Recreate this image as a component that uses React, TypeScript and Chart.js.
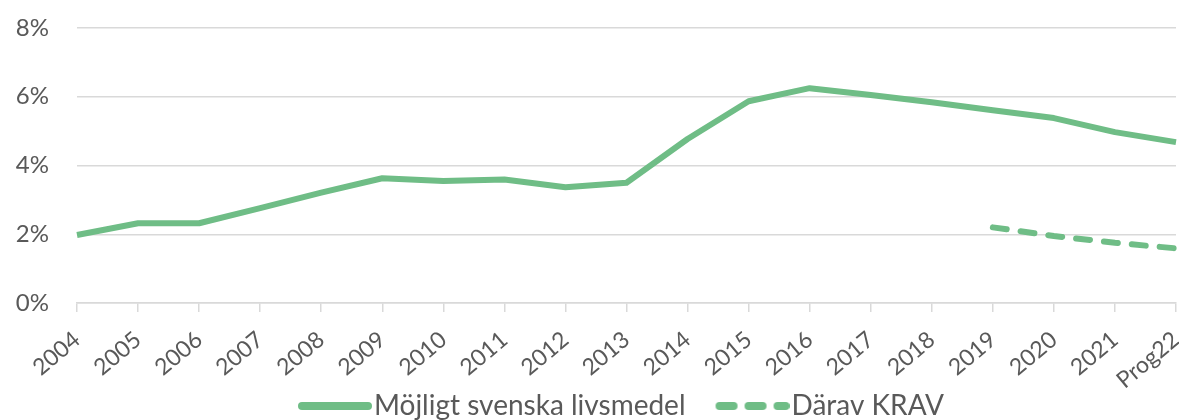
import React, { useEffect, useRef } from "react";
import { Chart, registerables } from "chart.js";

Chart.register(...registerables);

const categories = ["2004","2005","2006","2007","2008","2009","2010","2011","2012","2013","2014","2015","2016","2017","2018","2019","2020","2021","Prog22"];
const svenskaValues = [1.98, 2.32, 2.32, 2.76, 3.21, 3.63, 3.55, 3.59, 3.37, 3.5, 4.77, 5.87, 6.25, 6.05, 5.84, 5.61, 5.38, 4.97, 4.68];
const kravValues = [null, null, null, null, null, null, null, null, null, null, null, null, null, null, null, 2.2, 1.95, 1.75, 1.59];
const seriesNames = ["Möjligt svenska livsmedel", "Därav KRAV"];
const yTicks = [0, 2, 4, 6, 8];

const GREEN = "#6fbd86";
const GREY = "#595959";
const GRID = "#d9d9d9";
const FONT = "Lato, 'Open Sans', sans-serif";

const LEGEND_PAD = 30;
const LEGEND_FONT = 28;
const LEGEND_CENTER_Y = 406;
const LEGEND_CENTER_X = 621;
const LEGEND_BOX = 62;
const LEGEND_EXTRA = 12;

function makeLegendIcon(dashed: boolean) {
  const c = document.createElement("canvas");
  c.width = LEGEND_BOX + 2 * LEGEND_EXTRA;
  c.height = 10;
  const ctx = c.getContext("2d")!;
  ctx.strokeStyle = GREEN;
  ctx.lineWidth = 8;
  ctx.lineCap = "round";
  if (dashed) ctx.setLineDash([14, 15]);
  ctx.beginPath();
  ctx.moveTo(LEGEND_EXTRA + 4, 5);
  ctx.lineTo(c.width - 4, 5);
  ctx.stroke();
  return c;
}

const legendShift = {
  id: "legendShift",
  afterLayout(chart: any) {
    const lg = chart.legend;
    if (!lg) return;
    lg.top = LEGEND_CENTER_Y - LEGEND_PAD - LEGEND_FONT / 2;
    lg.bottom = 420;
    lg.height = lg.bottom - lg.top;
    lg.right = 1179;
    lg.left = 2 * LEGEND_CENTER_X - 1179;
    lg.width = lg.right - lg.left;
  },
};

export default function App() {
  const ref = useRef<HTMLCanvasElement | null>(null);
  useEffect(() => {
    document.body.style.margin = "0";
    const canvas = ref.current;
    if (!canvas) return;
    const icons = [makeLegendIcon(false), makeLegendIcon(true)];
    const chart = new Chart(canvas, {
      type: "line",
      data: {
        labels: categories,
        datasets: [
          {
            label: seriesNames[0],
            data: svenskaValues,
            borderColor: GREEN,
            backgroundColor: GREEN,
            borderWidth: 6,
            borderJoinStyle: "round",
            borderCapStyle: "butt",
            pointRadius: 0,
            pointHoverRadius: 0,
            tension: 0,
          },
          {
            label: seriesNames[1],
            data: kravValues,
            borderColor: GREEN,
            backgroundColor: GREEN,
            borderWidth: 6,
            borderDash: [14, 14],
            borderCapStyle: "round",
            borderJoinStyle: "round",
            pointRadius: 0,
            pointHoverRadius: 0,
            tension: 0,
          },
        ],
      },
      plugins: [legendShift],
      options: {
        responsive: false,
        animation: false,
        layout: { padding: { top: 28, right: 3, left: 0, bottom: 0 } },
        plugins: {
          tooltip: { enabled: false },
          legend: {
            position: "bottom",
            maxHeight: 26,
            labels: {
              usePointStyle: true,
              pointStyleWidth: LEGEND_BOX,
              padding: LEGEND_PAD,
              color: GREY,
              font: { family: FONT, size: LEGEND_FONT, lineHeight: 1.0 },
              generateLabels: (c: any) =>
                c.data.datasets.map((ds: any, i: number) => ({
                  text: ds.label,
                  datasetIndex: i,
                  fillStyle: ds.borderColor,
                  strokeStyle: ds.borderColor,
                  lineWidth: 8,
                  pointStyle: icons[i],
                  fontColor: GREY,
                  hidden: false,
                })),
            },
          },
        },
        scales: {
          x: {
            grid: {
              display: true,
              drawOnChartArea: false,
              drawTicks: true,
              tickLength: 9,
              color: GRID,
              lineWidth: 1.5,
            },
            border: { display: true, color: GRID, width: 1.5 },
            ticks: {
              color: GREY,
              font: { family: FONT, size: 23 },
              minRotation: 40,
              maxRotation: 40,
              padding: 14,
              autoSkip: false,
            },
            afterFit: (scale: any) => {
              scale.height = 91;
              scale.paddingLeft = 0;
              scale.paddingRight = 0;
            },
          },
          y: {
            min: 0,
            max: 8,
            afterBuildTicks: (scale: any) => {
              scale.ticks = yTicks.map((v) => ({ value: v }));
            },
            grid: { color: GRID, lineWidth: 1.5, drawTicks: false },
            border: { display: false },
            ticks: {
              color: GREY,
              font: { family: FONT, size: 24 },
              padding: 28,
              callback: (v: any) => `${v}%`,
            },
            afterFit: (scale: any) => {
              scale.width = 77;
              scale.paddingTop = 0;
              scale.paddingBottom = 0;
            },
          },
        },
      },
    });
    return () => chart.destroy();
  }, []);
  return (
    <div style={{ width: 1179, height: 420 }}>
      <canvas ref={ref} width={1179} height={420} />
    </div>
  );
}
